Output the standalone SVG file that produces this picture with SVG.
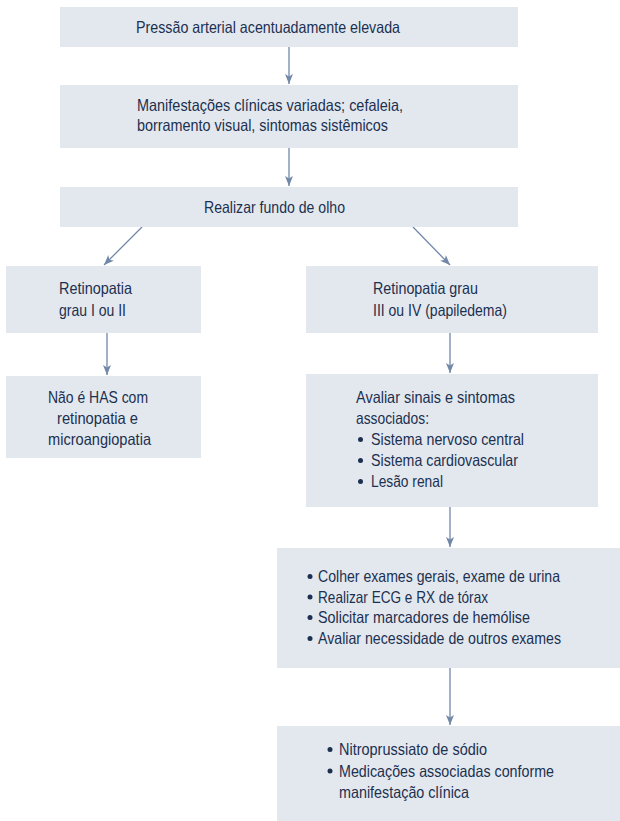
<svg xmlns="http://www.w3.org/2000/svg" width="620" height="821" viewBox="0 0 620 821">
  <style>
    .box { fill: #e3e8ef; }
    .t { font-family: "Liberation Sans Narrow", "Liberation Sans", "DejaVu Sans Condensed", sans-serif; font-size: 16.5px; fill: #1c3050; }
    .dot { fill: #1c3050; }
    .edge { stroke: #7288a8; stroke-width: 1.3; fill: none; marker-end: url(#arrow); }
  </style>
  <defs>
    <marker id="arrow" markerUnits="userSpaceOnUse" markerWidth="11" markerHeight="9" refX="10" refY="4" orient="auto">
      <path d="M0,0 L10,4 L0,8 L2.5,4 Z" fill="#7288a8"/>
    </marker>
  </defs>

  <rect width="620" height="821" fill="#ffffff"/>

  <g id="connectors">
    <line class="edge" x1="289" y1="47" x2="289" y2="84"/>
    <line class="edge" x1="289" y1="148" x2="289" y2="186"/>
    <line class="edge" x1="142" y1="227" x2="104" y2="265"/>
    <line class="edge" x1="413" y1="227" x2="450" y2="265"/>
    <line class="edge" x1="107" y1="333" x2="107" y2="375"/>
    <line class="edge" x1="450" y1="333" x2="450" y2="373"/>
    <line class="edge" x1="450" y1="507" x2="450" y2="547"/>
    <line class="edge" x1="450" y1="668" x2="450" y2="725"/>
  </g>

  <g id="pressao">
    <rect class="box" x="60" y="7" width="458" height="40"/>
    <text class="t" x="136" y="33" textLength="264" lengthAdjust="spacingAndGlyphs">Pressão arterial acentuadamente elevada</text>
  </g>

  <g id="manifestacoes">
    <rect class="box" x="60" y="85" width="458" height="63"/>
    <text class="t" x="137" y="111" textLength="266" lengthAdjust="spacingAndGlyphs">Manifestações clínicas variadas; cefaleia,</text>
    <text class="t" x="137" y="131" textLength="251" lengthAdjust="spacingAndGlyphs">borramento visual, sintomas sistêmicos</text>
  </g>

  <g id="fundo-olho">
    <rect class="box" x="60" y="187" width="458" height="40"/>
    <text class="t" x="204" y="213" textLength="141" lengthAdjust="spacingAndGlyphs">Realizar fundo de olho</text>
  </g>

  <g id="retinopatia-1-2">
    <rect class="box" x="6" y="266" width="195" height="67"/>
    <text class="t" x="59" y="294" textLength="73" lengthAdjust="spacingAndGlyphs">Retinopatia</text>
    <text class="t" x="59" y="316" textLength="67" lengthAdjust="spacingAndGlyphs">grau I ou II</text>
  </g>

  <g id="retinopatia-3-4">
    <rect class="box" x="306" y="266" width="292" height="67"/>
    <text class="t" x="373" y="294" textLength="105" lengthAdjust="spacingAndGlyphs">Retinopatia grau</text>
    <text class="t" x="373" y="316" textLength="134" lengthAdjust="spacingAndGlyphs">III ou IV (papiledema)</text>
  </g>

  <g id="nao-has">
    <rect class="box" x="6" y="376" width="195" height="82"/>
    <text class="t" x="48" y="403" textLength="100" lengthAdjust="spacingAndGlyphs">Não é HAS com</text>
    <text class="t" x="57" y="424" textLength="81" lengthAdjust="spacingAndGlyphs">retinopatia e</text>
    <text class="t" x="48" y="445" textLength="103" lengthAdjust="spacingAndGlyphs">microangiopatia</text>
  </g>

  <g id="avaliar-sinais">
    <rect class="box" x="306" y="374" width="292" height="133"/>
    <text class="t" x="356" y="403" textLength="159" lengthAdjust="spacingAndGlyphs">Avaliar sinais e sintomas</text>
    <text class="t" x="356" y="424" textLength="73" lengthAdjust="spacingAndGlyphs">associados:</text>
    <circle class="dot" cx="360.5" cy="439.5" r="2.5"/>
    <text class="t" x="371" y="445" textLength="153" lengthAdjust="spacingAndGlyphs">Sistema nervoso central</text>
    <circle class="dot" cx="360.5" cy="460.5" r="2.5"/>
    <text class="t" x="371" y="466" textLength="147" lengthAdjust="spacingAndGlyphs">Sistema cardiovascular</text>
    <circle class="dot" cx="360.5" cy="481.5" r="2.5"/>
    <text class="t" x="371" y="487" textLength="72" lengthAdjust="spacingAndGlyphs">Lesão renal</text>
  </g>

  <g id="exames">
    <rect class="box" x="277" y="548" width="343" height="120"/>
    <circle class="dot" cx="310" cy="576.5" r="2.5"/>
    <text class="t" x="318" y="582" textLength="242" lengthAdjust="spacingAndGlyphs">Colher exames gerais, exame de urina</text>
    <circle class="dot" cx="310" cy="597" r="2.5"/>
    <text class="t" x="318" y="602.5" textLength="170" lengthAdjust="spacingAndGlyphs">Realizar ECG e RX de tórax</text>
    <circle class="dot" cx="310" cy="617.5" r="2.5"/>
    <text class="t" x="318" y="623" textLength="212" lengthAdjust="spacingAndGlyphs">Solicitar marcadores de hemólise</text>
    <circle class="dot" cx="310" cy="638.5" r="2.5"/>
    <text class="t" x="318" y="644" textLength="243" lengthAdjust="spacingAndGlyphs">Avaliar necessidade de outros exames</text>
  </g>

  <g id="tratamento">
    <rect class="box" x="277" y="726" width="343" height="95"/>
    <circle class="dot" cx="330" cy="749.5" r="2.5"/>
    <text class="t" x="339" y="755" textLength="148" lengthAdjust="spacingAndGlyphs">Nitroprussiato de sódio</text>
    <circle class="dot" cx="330" cy="771" r="2.5"/>
    <text class="t" x="339" y="777" textLength="215" lengthAdjust="spacingAndGlyphs">Medicações associadas conforme</text>
    <text class="t" x="339" y="798" textLength="130" lengthAdjust="spacingAndGlyphs">manifestação clínica</text>
  </g>
</svg>
